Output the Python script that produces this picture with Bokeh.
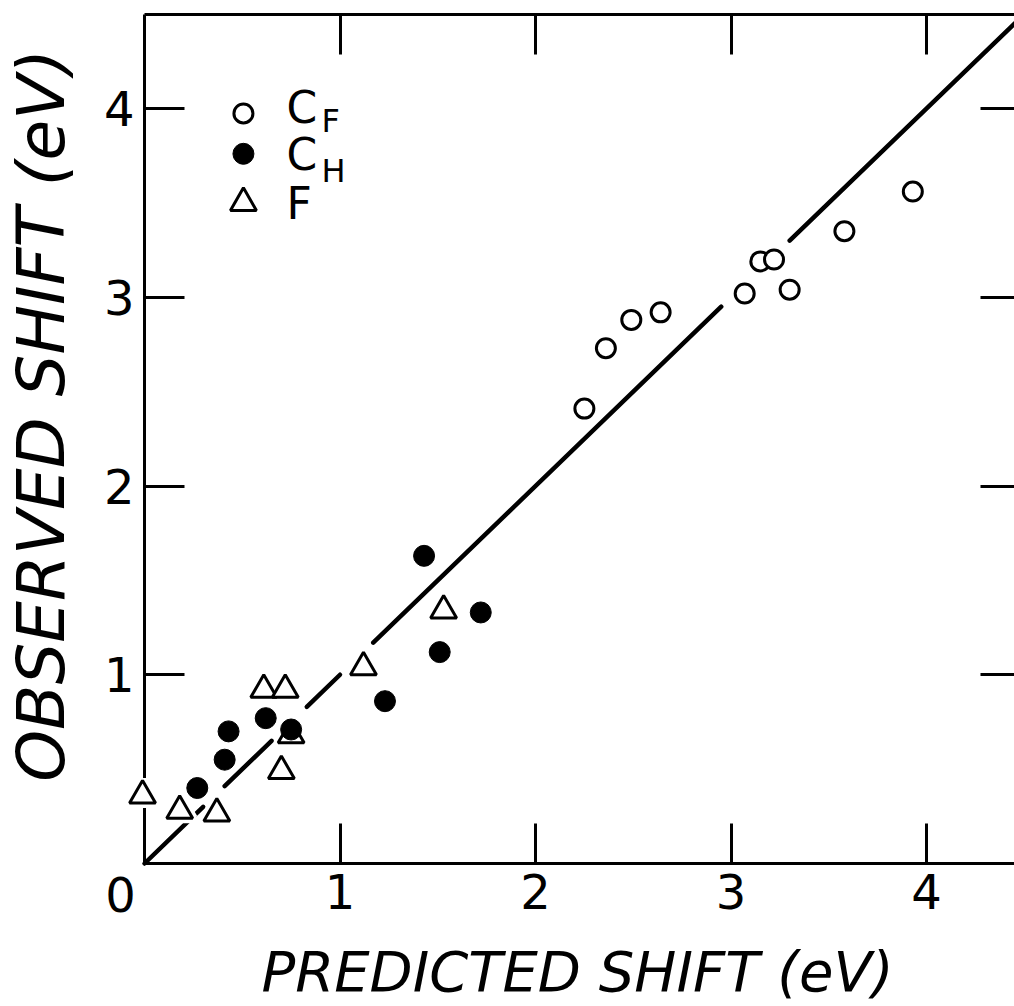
import math
from bokeh.plotting import figure
from bokeh.models import (LinearAxis, FixedTicker, Range1d, Label, ColumnDataSource,
                          CustomJSTickFormatter)
from bokeh.embed import file_html
from bokeh.resources import INLINE
from bokeh.core.properties import value

# ---------------- data ----------------
# C_F (open circles)
cf_x = [2.25, 2.36, 2.49, 2.64, 3.07, 3.15, 3.22, 3.30, 3.58, 3.93]
cf_y = [2.41, 2.73, 2.88, 2.92, 3.02, 3.19, 3.20, 3.04, 3.35, 3.56]
# C_H (filled circles)
ch_x = [0.27, 0.41, 0.43, 0.62, 0.75, 1.23, 1.43, 1.51, 1.72]
ch_y = [0.40, 0.55, 0.70, 0.77, 0.71, 0.86, 1.63, 1.12, 1.33]
# F (open triangles)
f_x = [-0.01, 0.18, 0.37, 0.61, 0.70, 0.72, 0.75, 1.12, 1.53]
f_y = [0.36, 0.28, 0.265, 0.92, 0.49, 0.92, 0.68, 1.04, 1.34]
# y = x reference line, drawn in pieces (broken around markers as in the original)
fit_x0 = [0.0, 0.41, 0.83, 1.17, 3.30]
fit_x1 = [0.30, 0.65, 1.00, 2.95, 4.50]

tick_values = [1, 2, 3, 4]
axis_max = 4.5

legend_main = ["C", "C", "F"]
legend_sub = ["F", "H"]

x_title = "PREDICTED SHIFT (eV)"
y_title = "OBSERVED SHIFT (eV)"

# ---------------- figure ----------------
p = figure(width=1014, height=1006,
           x_range=Range1d(-0.7366, 4.4501), y_range=Range1d(-0.7576, 4.5722),
           x_axis_type=None, y_axis_type=None,
           toolbar_location=None, output_backend="svg",
           min_border=0, outline_line_color=None,
           background_fill_color="white", border_fill_color="white")

blank = CustomJSTickFormatter(code="return ''")


def add_axis(side, loc, tick_in, labels=True, line=True, standoff=10):
    ax = LinearAxis(fixed_location=loc, bounds=(0, axis_max),
                    ticker=FixedTicker(ticks=tick_values, minor_ticks=[]))
    ax.major_tick_in = tick_in
    ax.major_tick_out = 0
    ax.minor_tick_in = 0
    ax.minor_tick_out = 0
    ax.axis_line_width = 3
    ax.axis_line_color = "black" if line else None
    ax.major_tick_line_width = 3
    ax.major_tick_line_color = "black"
    if labels:
        ax.major_label_text_font = "DejaVu Sans"
        ax.major_label_text_font_size = "48px"
        ax.major_label_text_color = "black"
        ax.major_label_standoff = standoff
    else:
        ax.formatter = blank
    p.add_layout(ax, side)
    return ax


add_axis("left", 0, 40, labels=True, standoff=10)
add_axis("below", 0, 40, labels=True, standoff=10)
add_axis("above", axis_max, 40, labels=False)
add_axis("right", axis_max, 44, labels=False, line=False)

# reference line y = x
p.segment(x0=fit_x0, y0=fit_x0, x1=fit_x1, y1=fit_x1,
          line_color="black", line_width=4.5, line_cap="round")

# markers
fsrc = ColumnDataSource(dict(x=f_x, y=f_y))
p.scatter("x", "y", source=fsrc, marker="triangle", size=26,
          fill_color="white", line_color="white", line_width=10, level="overlay")
p.scatter("x", "y", source=fsrc, marker="triangle", size=26,
          fill_color="white", line_color="black", line_width=3, level="overlay")
p.scatter(cf_x, cf_y, marker="circle", size=19, fill_color="white",
          line_color="black", line_width=3, level="overlay")
p.scatter(ch_x, ch_y, marker="circle", size=21, fill_color="black",
          line_color="black", line_width=1, level="overlay")

# legend (hand-drawn like the original)
p.scatter([0.506], [3.974], marker="circle", size=19, fill_color="white",
          line_color="black", line_width=3)
p.scatter([0.506], [3.76], marker="circle", size=21, fill_color="black",
          line_color="black")
p.scatter([0.506], [3.50], marker="triangle", size=26, fill_color="white",
          line_color="black", line_width=3)
p.text(x=[0.726, 0.726, 0.726], y=[4.003, 3.756, 3.499], text=legend_main,
       text_font=value("DejaVu Sans"), text_font_size=value("44px"),
       text_color="black", text_align="left", text_baseline="middle")
p.text(x=[0.905, 0.905], y=[3.936, 3.671], text=legend_sub,
       text_font=value("DejaVu Sans"), text_font_size=value("32px"),
       text_color="black", text_align="left", text_baseline="middle")

# origin label
p.add_layout(Label(x=-0.123, y=-0.164, text="0", text_font="DejaVu Sans",
                   text_font_size="48px", text_align="center",
                   text_baseline="middle", text_color="black"))

# axis titles
p.add_layout(Label(x=2.215, y=-0.573, text=x_title, text_font="DejaVu Sans",
                   text_font_size="56px", text_font_style="italic",
                   text_align="center", text_baseline="middle",
                   text_color="black"))
p.add_layout(Label(x=-0.527, y=2.374, text=y_title, text_font="DejaVu Sans",
                   text_font_size="66px", text_font_style="italic",
                   text_align="center", text_baseline="middle",
                   angle=math.pi / 2, text_color="black"))

open("out.html", "w").write(file_html(p, INLINE))
